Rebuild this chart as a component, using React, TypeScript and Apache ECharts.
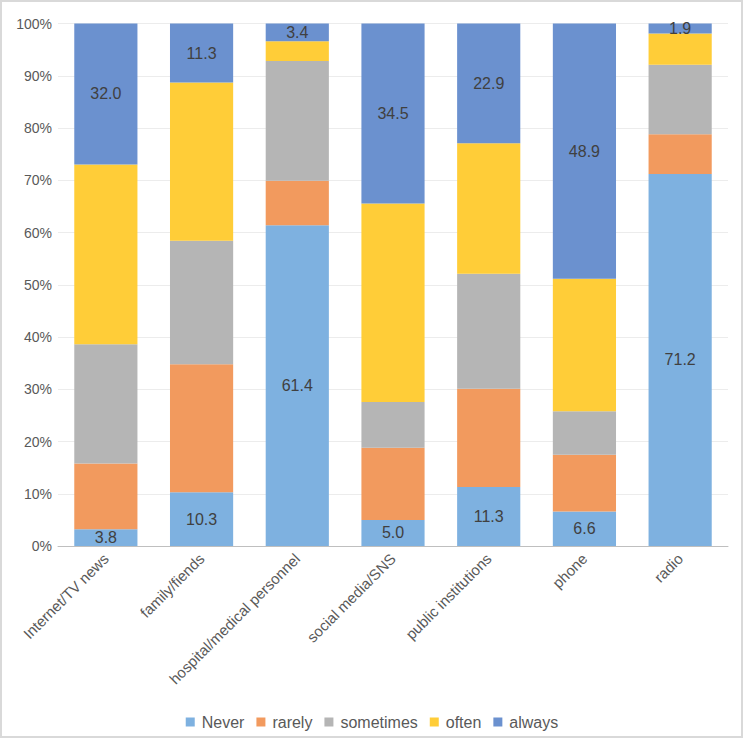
import React, { useEffect, useRef } from "react";
import * as echarts from "echarts";

const categories = [
  "Internet/TV news",
  "family/fiends",
  "hospital/medical personnel",
  "social media/SNS",
  "public institutions",
  "phone",
  "radio",
];
const seriesNames = ["Never", "rarely", "sometimes", "often", "always"];
const never = [3.8, 10.3, 61.4, 5.0, 11.3, 6.6, 71.2];
const rarely = [14.9, 24.5, 8.5, 13.8, 18.8, 10.9, 7.6];
const sometimes = [27.1, 23.6, 22.9, 8.8, 22.0, 8.3, 13.3];
const often = [40.8, 30.3, 3.8, 38.0, 25.0, 25.4, 6.0];
const always = [32.0, 11.3, 3.4, 34.5, 22.9, 48.9, 1.9];
const yTicks = { min: 0, max: 100, interval: 10 };

const colors = ["#7eb1e0", "#f29a5e", "#b5b5b5", "#ffcd38", "#6b91cf"];
const labelled = [true, false, false, false, true];
const FONT = "'Liberation Sans', Arial, sans-serif";

export default function App() {
  const ref = useRef<HTMLDivElement>(null);
  useEffect(() => {
    document.body.style.margin = "0";
    if (!ref.current) return;
    const chart = echarts.init(ref.current, null, { renderer: "svg" });
    const raw = [never, rarely, sometimes, often, always];
    const totals = categories.map((_, i) => raw.reduce((s, arr) => s + arr[i], 0));
    const series = raw.map((arr, k) => ({
      name: seriesNames[k],
      type: "bar",
      stack: "total",
      barCategoryGap: "34%",
      itemStyle: { color: colors[k] },
      data: arr.map((v, i) => (v / totals[i]) * 100),
      label: {
        show: labelled[k],
        position: "inside",
        fontFamily: FONT,
        fontSize: 16,
        color: "#404040",
        formatter: (p: any) => arr[p.dataIndex].toFixed(1),
      },
      emphasis: { disabled: true },
    }));
    chart.setOption({
      animation: false,
      textStyle: { fontFamily: FONT },
      graphic: [
        {
          type: "rect",
          shape: { x: 1, y: 1, width: 741, height: 736 },
          style: { fill: "none", stroke: "#d9d9d9", lineWidth: 2 },
          silent: true,
        },
      ],
      grid: { left: 58, right: 16, top: 23.5, bottom: 193, containLabel: false },
      legend: {
        data: seriesNames,
        top: 709,
        left: "center",
        icon: "rect",
        itemWidth: 9,
        itemHeight: 9,
        itemGap: 12,
        textStyle: { fontSize: 16, color: "#595959", fontFamily: FONT, padding: [0, 0, 0, 2] },
      },
      xAxis: {
        type: "category",
        data: categories,
        axisTick: { show: false },
        axisLine: { lineStyle: { color: "#bfbfbf", width: 1 } },
        axisLabel: {
          rotate: 45,
          interval: 0,
          fontSize: 15,
          color: "#595959",
          fontFamily: FONT,
          margin: 10,
        },
      },
      yAxis: {
        type: "value",
        min: yTicks.min,
        max: yTicks.max,
        interval: yTicks.interval,
        axisLine: { show: false },
        axisTick: { show: false },
        splitLine: { lineStyle: { color: "#ececec" } },
        axisLabel: {
          formatter: "{value}%",
          fontSize: 14,
          color: "#595959",
          fontFamily: FONT,
          margin: 6,
        },
      },
      series,
    });
    return () => chart.dispose();
  }, []);
  return <div ref={ref} style={{ width: 744, height: 739, background: "#fff" }} />;
}
